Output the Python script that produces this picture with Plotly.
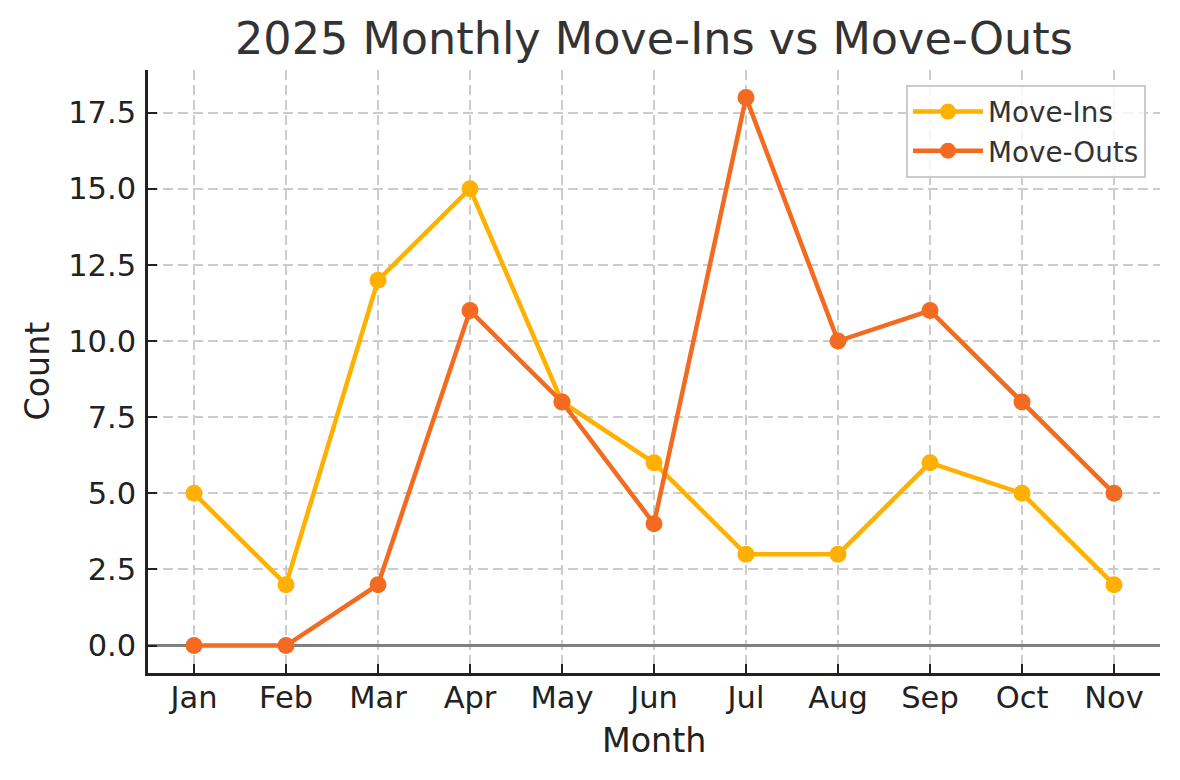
import plotly.graph_objects as go

months = ["Jan", "Feb", "Mar", "Apr", "May", "Jun", "Jul", "Aug", "Sep", "Oct", "Nov"]
move_ins = [5, 2, 12, 15, 8, 6, 3, 3, 6, 5, 2]
move_outs = [0, 0, 2, 11, 8, 4, 18, 10, 11, 8, 5]
y_ticks = [0, 2.5, 5, 7.5, 10, 12.5, 15, 17.5]

C_IN = "#FFB000"
C_OUT = "#F26B21"
FONT = "DejaVu Sans"

# page body has an 8px margin: figure drawn offset by (8, 8)
OFF = 8
W, H = 1180 - OFF, 780 - OFF
L, R, T, B = 148 - OFF, W - (1160 - OFF), 70 - OFF, H - (673 - OFF)
PW, PH = W - L - R, H - T - B

fig = go.Figure()
fig.add_trace(go.Scatter(x=list(range(len(months))), y=move_ins, name="Move-Ins",
                         mode="lines+markers", line=dict(color=C_IN, width=4.5),
                         marker=dict(color=C_IN, size=17)))
fig.add_trace(go.Scatter(x=list(range(len(months))), y=move_outs, name="Move-Outs",
                         mode="lines+markers", line=dict(color=C_OUT, width=4.5),
                         marker=dict(color=C_OUT, size=17)))

grid = dict(showgrid=True, gridcolor="#cccccc", gridwidth=1.5, griddash="10px,5px")

fig.update_layout(
    width=W, height=H,
    paper_bgcolor="white", plot_bgcolor="white",
    margin=dict(l=L, r=R, t=T, b=B, autoexpand=False),
    font=dict(family=FONT, color="#222222"),
    title=dict(text="2025 Monthly Move-Ins vs Move-Outs", x=(654 - OFF) / W, xanchor="center",
               y=1 - (38.5 - OFF) / H, yanchor="middle", yref="container",
               font=dict(size=44.5, color="#333333", family=FONT)),
    xaxis=dict(range=[-0.5, 10.5], tickmode="array", tickvals=list(range(len(months))),
               ticktext=months, ticks="inside", ticklen=9, tickwidth=2, tickcolor="#222222",
               showline=True, linecolor="#222222", linewidth=2.5, mirror=False,
               tickfont=dict(size=30.5, color="#222222"), zeroline=False,
               ticklabelstandoff=-4, **grid),
    yaxis=dict(range=[-0.9, 18.9], tickmode="array", tickvals=y_ticks,
               ticktext=[f"{v:.1f}" for v in y_ticks], ticks="inside", ticklen=9, tickwidth=2,
               tickcolor="#222222", showline=True, linecolor="#222222", linewidth=2.5,
               tickfont=dict(size=30.5, color="#222222"),
               zeroline=True, zerolinecolor="#808080", zerolinewidth=2.5,
               ticklabelstandoff=3, **grid),
    legend=dict(x=(1146 - 148) / PW, xref="paper", xanchor="right", y=(673 - 85) / PH, yref="paper",
                yanchor="top", bgcolor="rgba(255,255,255,0.8)", bordercolor="#cccccc",
                borderwidth=2, font=dict(size=27.8, color="#333333", family=FONT),
                itemwidth=70, tracegroupgap=0),
    showlegend=True,
    annotations=[
        dict(text="Month", xref="paper", yref="paper", x=0.5, y=-(740 - 673) / PH,
             xanchor="center", yanchor="middle", showarrow=False,
             font=dict(size=33.3, color="#222222", family=FONT)),
        dict(text="Count", xref="paper", yref="paper", x=-(148 - 37) / PW, y=0.5,
             xanchor="center", yanchor="middle", showarrow=False, textangle=-90,
             font=dict(size=33.3, color="#222222", family=FONT)),
    ],
)

fig.write_html("out.html")
